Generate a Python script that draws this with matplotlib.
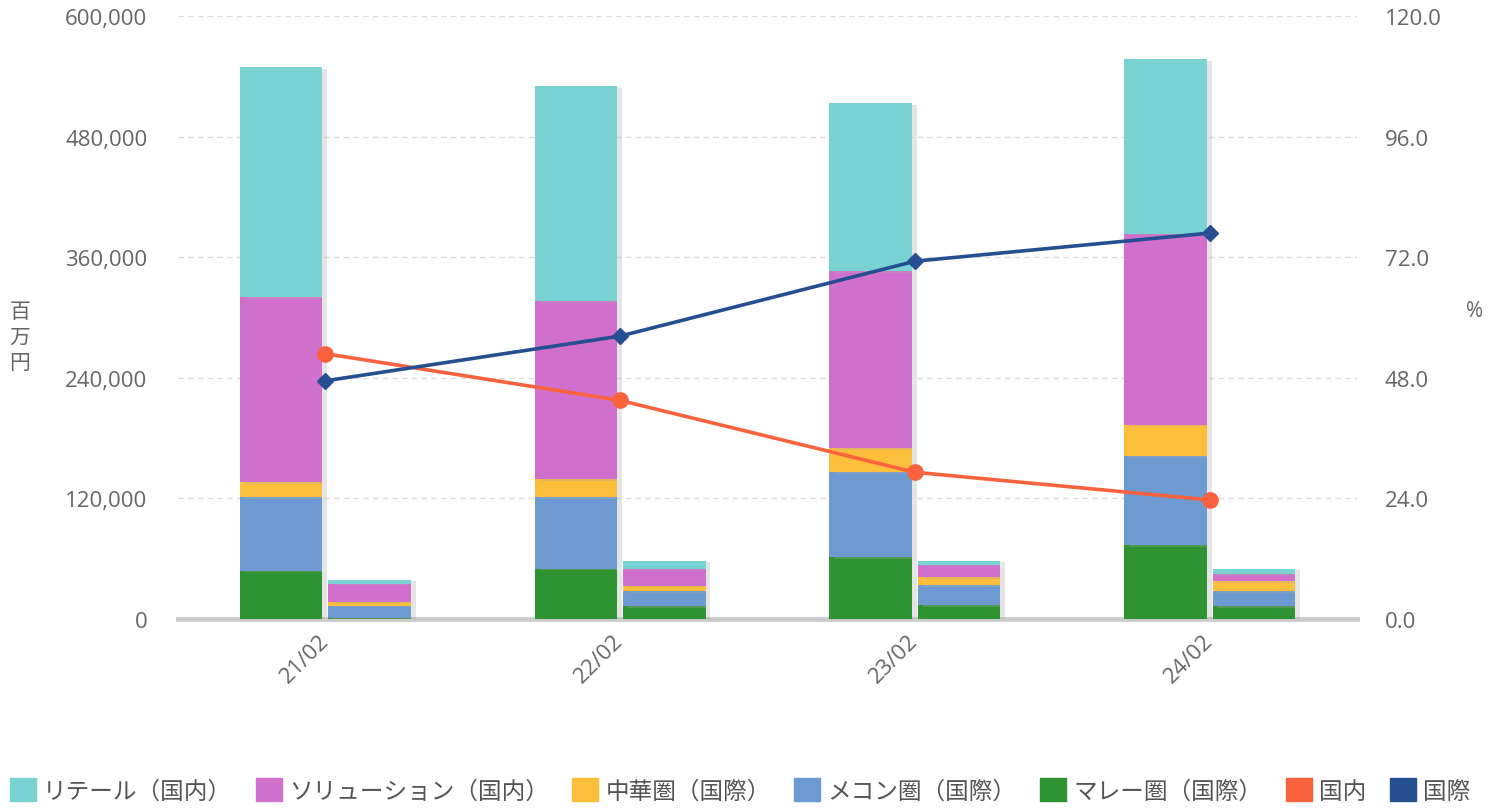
import matplotlib
matplotlib.use("Agg")
import matplotlib.pyplot as plt
import matplotlib.patheffects as pe
import numpy as np
from matplotlib.patches import Patch

plt.rcParams['font.family'] = ['Open Sans', 'Noto Sans CJK JP', 'DejaVu Sans']

categories = ['21/02', '22/02', '23/02', '24/02']
series_names = ['リテール（国内）', 'ソリューション（国内）', '中華圏（国際）', 'メコン圏（国際）', 'マレー圏（国際）']
colors = ['#79d3d3', '#d170cc', '#fbbf3c', '#6d9bd1', '#2e9331']

# large stacks (百万円)
retail_a   = [229000, 214000, 167000, 174000]
solution_a = [184000, 177000, 176000, 190000]
china_a    = [15000, 18000, 24000, 31000]
mekong_a   = [73000, 71000, 84500, 88500]
malay_a    = [48000, 50000, 61500, 73500]

# small stacks (百万円)
retail_b   = [4000, 8000, 4000, 5500]
solution_b = [18000, 17000, 12500, 7000]
china_b    = [4000, 5500, 8000, 10000]
mekong_b   = [12000, 15000, 20000, 15000]
malay_b    = [1000, 12500, 13500, 12500]

domestic_pct = [52.8, 43.5, 29.2, 23.7]
intl_pct     = [47.4, 56.3, 71.2, 76.8]

fig = plt.figure(figsize=(15.02, 8.12), dpi=100)
ax = fig.add_axes([178/1502, 1-620/812, (1357-178)/1502, (620-17)/812])
ax2 = ax.twinx()

x = np.arange(len(categories))
w = 0.28
off = 0.15
shadow = [pe.SimplePatchShadow(offset=(3.5, -1), shadow_rgbFace='#aaaaaa', alpha=0.3), pe.Normal()]

stack_a = [malay_a, mekong_a, china_a, solution_a, retail_a]
stack_b = [malay_b, mekong_b, china_b, solution_b, retail_b]
stack_colors = colors[::-1]
for stack, pos in ((stack_a, x - off), (stack_b, x + off)):
    bottom = np.zeros(len(categories))
    for vals, c in zip(stack, stack_colors):
        bars = ax.bar(pos, vals, w, bottom=bottom, color=c, zorder=3, linewidth=0)
        for b in bars:
            b.set_path_effects(shadow)
        bottom += np.array(vals)

tick_color = '#666666'
ax.set_xlim(-0.5, 3.5)
ax.set_ylim(0, 600000)
ax.set_yticks(np.arange(0, 600001, 120000))
ax.set_yticklabels([f'{v:,}' for v in range(0, 600001, 120000)])
ax.grid(axis='y', linestyle=(0, (4, 3)), color='#dddddd', linewidth=1, zorder=0)
ax.set_axisbelow(True)
for s in ['top', 'right', 'left']:
    ax.spines[s].set_visible(False)
ax.spines['bottom'].set_color('#cccccc')
ax.spines['bottom'].set_linewidth(3.5)
ax.tick_params(axis='y', length=0, pad=22, labelsize=16, labelcolor=tick_color)
ax.tick_params(axis='x', length=0, pad=13, labelsize=16, labelcolor=tick_color)
ax.set_xticks(x)
ax.set_xticklabels(categories, rotation=45, ha='right', va='center', rotation_mode='anchor')

ax2.set_ylim(0, 120)
ax2.set_yticks(np.arange(0, 121, 24))
ax2.set_yticklabels([f'{v:.1f}' for v in range(0, 121, 24)])
ax2.tick_params(axis='y', length=0, pad=20, labelsize=16, labelcolor=tick_color)
for s in ['top', 'right', 'left', 'bottom']:
    ax2.spines[s].set_visible(False)

ax2.plot(x, domestic_pct, color='#fa623e', linewidth=2.6, marker='o', markersize=11, zorder=5)
ax2.plot(x, intl_pct, color='#264f91', linewidth=2.6, marker='D', markersize=8, zorder=5)

fig.text(20/1502, 1-338/812, '百\n万\n円', ha='center', va='center', fontsize=15, color=tick_color, linespacing=1.3)
fig.text(1475/1502, 1-312/812, '%', ha='center', va='center', fontsize=15, color=tick_color)

handles = [Patch(color=c) for c in colors] + [Patch(color='#fa623e'), Patch(color='#264f91')]
labels = series_names + ['国内', '国際']
fig.legend(handles, labels, loc='center', bbox_to_anchor=(740/1502, 1-792/812), ncol=7, frameon=False,
           fontsize=17, handlelength=1.1, handleheight=1.1, handletextpad=0.3, columnspacing=1.0,
           labelcolor='#555555')

fig.savefig('out.png', dpi=100)
